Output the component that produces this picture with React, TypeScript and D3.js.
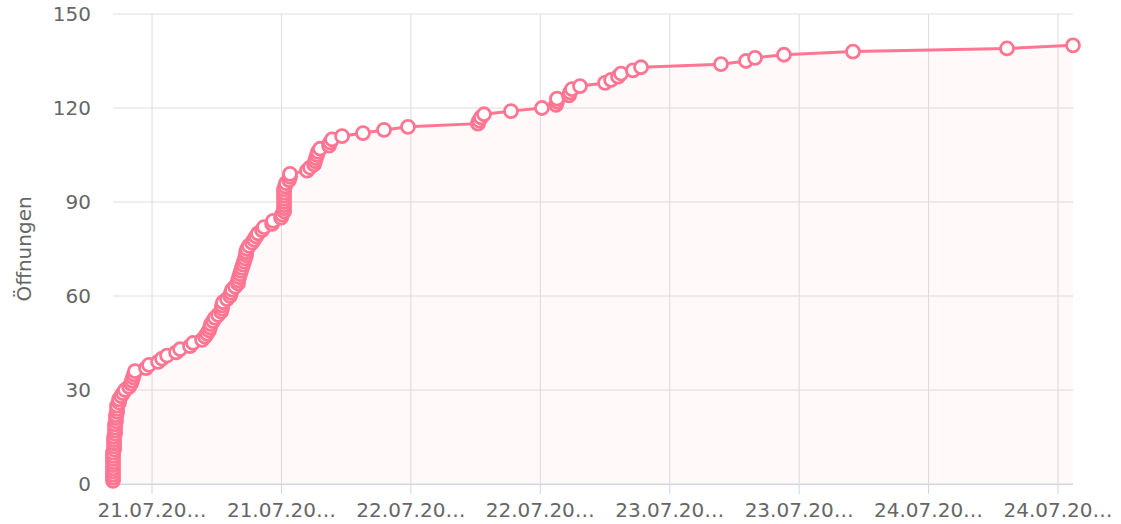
import { useEffect } from "react";
import * as d3 from "d3";

// Öffnungszeitpunkte, Stunden relativ zum 21.07.2020 00:00
const openHours = [
  -3.62, -3.62, -3.62, -3.62, -3.62, -3.62, -3.62, -3.62, -3.62, -3.62,
  -3.52, -3.52, -3.52, -3.52, -3.52,
  -3.43, -3.43, -3.43, -3.43,
  -3.34, -3.34, -3.34,
  -3.24, -3.24, -3.24,
  -3.06, -3.06,
  -2.87, -2.69, -2.5, -2.13, -1.95, -1.85, -1.76, -1.67, -1.58,
  -0.56, -0.28, 0.56, 0.93, 1.39, 2.23, 2.6, 3.52, 3.8,
  4.64, 4.91, 5.1, 5.28, 5.38, 5.47, 5.66, 5.84, 6.12, 6.4,
  6.49, 6.49, 6.58, 6.95, 7.23, 7.32, 7.42, 7.7, 7.97, 7.97,
  8.07, 8.16, 8.25, 8.34, 8.44, 8.53, 8.62, 8.72, 8.72, 8.81,
  8.99, 9.27, 9.46, 9.64, 9.83, 10.2, 10.38, 11.13, 11.22, 11.96,
  12.05, 12.24, 12.24, 12.24, 12.24, 12.24, 12.24, 12.24, 12.24,
  12.33, 12.42, 12.7, 12.79, 12.79,
  14.37, 14.65, 15.02, 15.11, 15.2, 15.3, 15.39, 15.58, 16.41, 16.5,
  16.69, 17.62, 19.56, 21.51, 23.73,
  30.22, 30.32, 30.5, 30.78, 33.28, 36.15, 37.46, 37.55, 37.55,
  38.66, 38.75, 38.94, 39.68, 42.0, 42.56, 43.21, 43.48, 44.59, 45.34,
  52.75, 55.07, 55.91, 58.59, 64.99, 79.27, 85.39,
];

const yTicks = [0, 30, 60, 90, 120, 150];
// x-Ticks alle 12 Stunden
const xTickHours = [0, 12, 24, 36, 48, 60, 72, 84];

const base = new Date(2020, 6, 21, 0, 0);
const toDate = (h: number) => new Date(base.getTime() + h * 3600 * 1000);

const W = 1121;
const H = 524;
const margin = { top: 14, right: 48, bottom: 40, left: 113 };
const LINE = "#ff7592";
const FONT = "DejaVu Sans, sans-serif";

const fmt = d3.timeFormat("%d.%m.%Y %H:%M");
const shorten = (s: string) => (s.length > 8 ? s.slice(0, 8) + "…" : s);

export default function App() {
  useEffect(() => {
    document.body.style.margin = "0";
  }, []);

  const points = openHours.map((h, i) => ({ t: toDate(h), v: i + 1 }));

  const x = d3
    .scaleTime()
    .domain(d3.extent(points, (d) => d.t) as [Date, Date])
    .range([margin.left, W - margin.right]);
  const y = d3
    .scaleLinear()
    .domain([0, 150])
    .range([H - margin.bottom, margin.top]);

  const line = d3
    .line<{ t: Date; v: number }>()
    .x((d) => x(d.t))
    .y((d) => y(d.v));
  const area = d3
    .area<{ t: Date; v: number }>()
    .x((d) => x(d.t))
    .y0(y(0))
    .y1((d) => y(d.v));

  const x0 = margin.left;
  const x1 = W - margin.right;
  const yb = y(0);

  return (
    <svg width={W} height={H} style={{ display: "block", fontFamily: FONT }}>
      {/* horizontale Gitterlinien */}
      {yTicks.map((t) => (
        <line key={"gy" + t} x1={x0} x2={x1} y1={y(t)} y2={y(t)} stroke="#dedede" strokeWidth={1} />
      ))}
      {/* vertikale Gitterlinien */}
      {xTickHours.map((h) => (
        <line
          key={"gx" + h}
          x1={x(toDate(h))}
          x2={x(toDate(h))}
          y1={margin.top}
          y2={yb}
          stroke="#dcdcdc"
          strokeWidth={1}
        />
      ))}
      <path d={area(points) || ""} fill={LINE} fillOpacity={0.045} />
      {/* x-Achse */}
      <line x1={x0} x2={x1} y1={yb + 0.5} y2={yb + 0.5} stroke="#ccd6eb" strokeWidth={1} />
      {xTickHours.map((h) => {
        const px = x(toDate(h));
        return (
          <g key={"xt" + h}>
            <line x1={px} x2={px} y1={yb} y2={yb + 10} stroke="#ccd6eb" strokeWidth={1} />
            <text x={px} y={517} textAnchor="middle" fontSize={20} fill="#666666">
              {shorten(fmt(toDate(h)))}
            </text>
          </g>
        );
      })}
      {yTicks.map((t) => (
        <text key={"yt" + t} x={91} y={y(t) + 7} textAnchor="end" fontSize={20} fill="#666666">
          {t}
        </text>
      ))}
      <text
        transform={`translate(31,${(margin.top + yb) / 2}) rotate(-90)`}
        textAnchor="middle"
        fontSize={20}
        fill="#666666"
      >
        Öffnungen
      </text>
      <path d={line(points) || ""} fill="none" stroke={LINE} strokeWidth={3} />
      {points.map((d, i) => (
        <circle key={i} cx={x(d.t)} cy={y(d.v)} r={6.5} fill="#ffffff" stroke={LINE} strokeWidth={2.8} />
      ))}
    </svg>
  );
}
